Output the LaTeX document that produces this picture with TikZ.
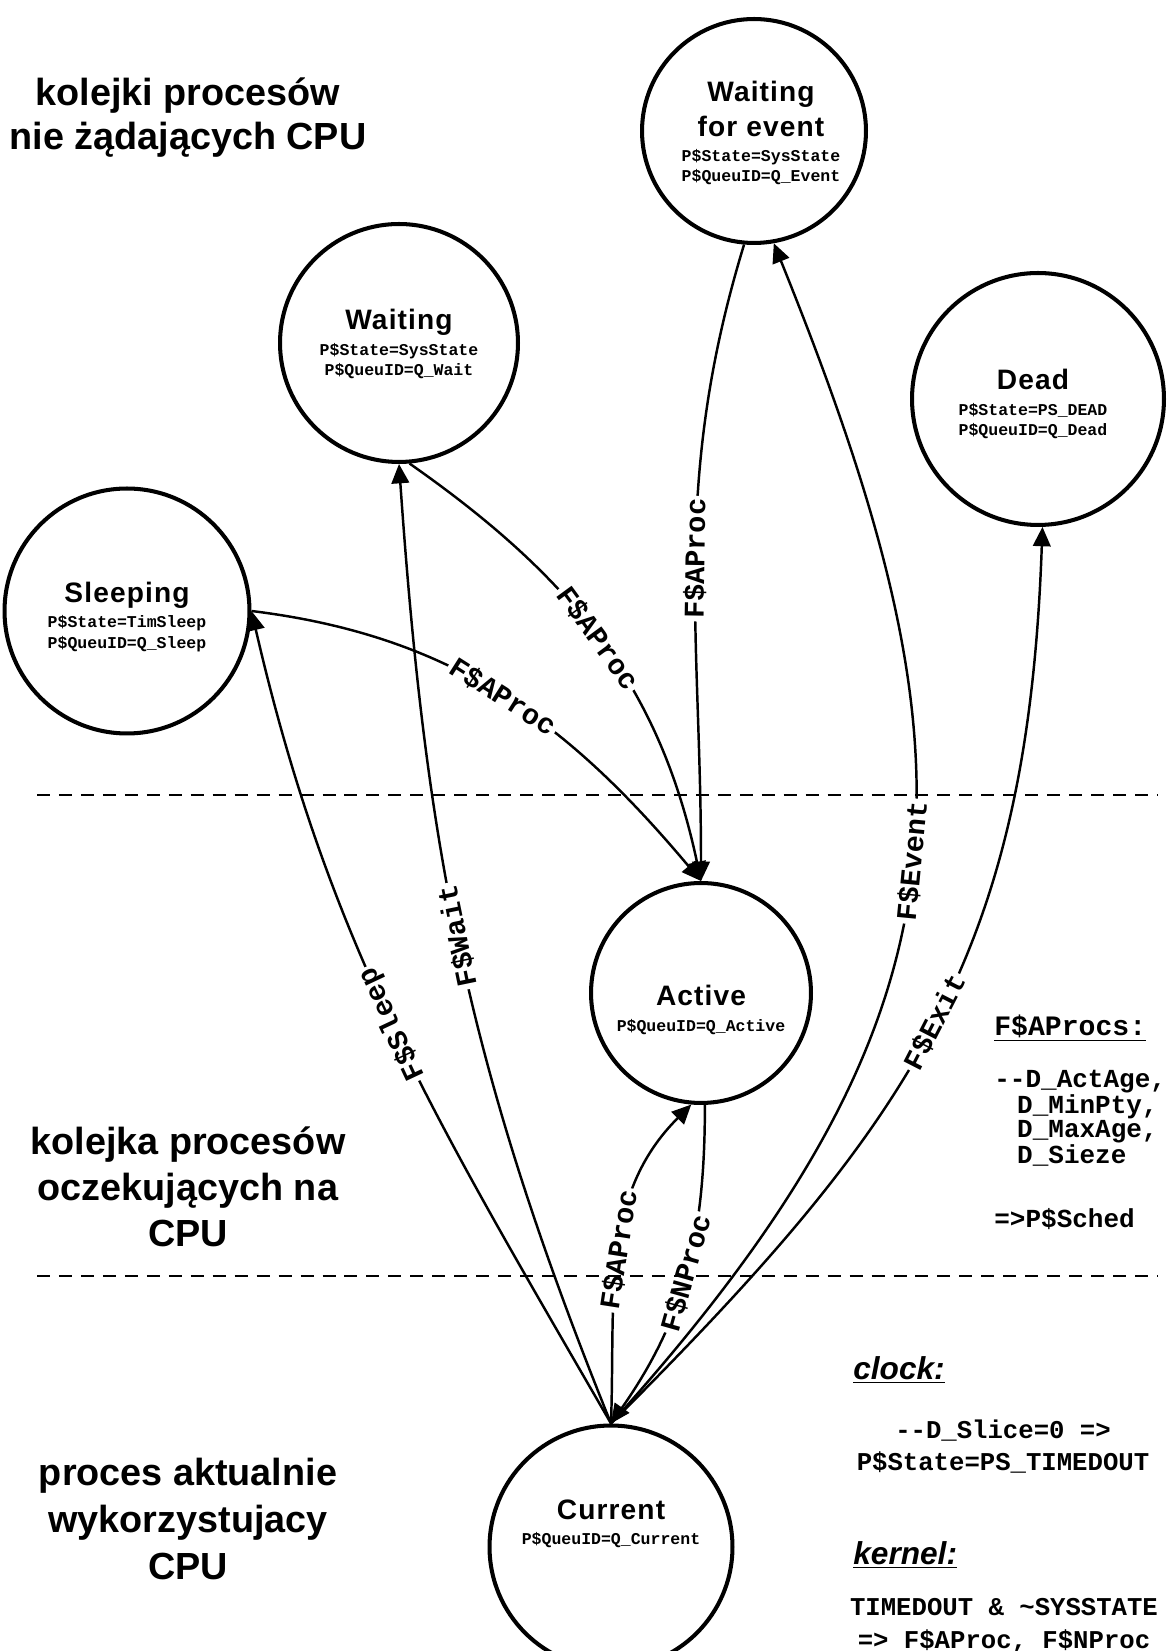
\documentclass[tikz,border=0pt]{standalone}
\usepackage{fontspec}
\setmainfont{Liberation Sans}
\setmonofont{Liberation Mono}
\usetikzlibrary{positioning,arrows.meta}

\newcommand{\stitle}{\fontsize{16}{18}\selectfont\rmfamily\bfseries\addfontfeature{LetterSpace=4}}
\newcommand{\scode}{\fontsize{9.4}{11.5}\selectfont\ttfamily\bfseries}
\newcommand{\elabel}{\fontsize{16.3}{19}\selectfont\ttfamily\bfseries}
\newcommand{\ncode}{\fontsize{14.6}{18}\selectfont\ttfamily\bfseries}
\newcommand{\nhead}{\fontsize{18}{21}\selectfont\bfseries\itshape}
\newcommand{\regionfont}{\fontsize{21.5}{25}\selectfont\bfseries}

\begin{document}
\begin{tikzpicture}[
    x=0.02cm, y=0.02cm,
    >={Triangle[length=11pt,width=10pt]},
    state/.style={circle, draw, line width=2.3pt, minimum size=#1, inner sep=0pt},
    state/.default=4.76cm,
    stext/.style={align=center, inner sep=0pt, font=\scode},
    trans/.style={->, line width=1.4pt},
    lbl/.style={sloped, allow upside down, fill=white, inner sep=1.5pt, font=\elabel},
    region/.style={align=center, font=\regionfont},
    note/.style={inner sep=0pt, font=\ncode},
    divider/.style={dash pattern=on 7.4pt off 5.1pt, line width=0.85pt},
  ]
  \useasboundingbox (0,0) rectangle (1170,1651);

  % ============================================================
  % Process states
  % ============================================================
  \node[state=4.48cm] (wfe) at (754, 1520) {};
  \node[stext] (wfetxt) at (761, 1518)
    {{\stitle Waiting}\\[4.2pt]{\stitle for event}\\[2.8pt]P\$State=SysState\\P\$QueuID=Q\_Event};

  \node[state] (wait) at (399, 1308) {};
  \node[stext] (waittxt) at (399, 1307)
    {{\stitle Waiting}\\[2.8pt]P\$State=SysState\\P\$QueuID=Q\_Wait};

  \node[state=5.04cm] (dead) at (1038, 1252) {};
  \node[stext] (deadtxt) at (1033, 1247)
    {{\stitle Dead}\\[2.8pt]P\$State=PS\_DEAD\\P\$QueuID=Q\_Dead};

  \node[state=4.9cm] (sleep) at (127, 1040) {};
  \node[stext] (sleeptxt) at (127, 1034)
    {{\stitle Sleeping}\\[2.8pt]P\$State=TimSleep\\P\$QueuID=Q\_Sleep};

  \node[state=4.4cm] (active) at (701, 658) {};
  \node[stext] (activetxt) at (701, 641)
    {{\stitle Active}\\[2.8pt]P\$QueuID=Q\_Active};

  \node[state=4.86cm] (current) at (611, 104) {};
  \node[stext] (currenttxt) at (611, 127)
    {{\stitle Current}\\[2.8pt]P\$QueuID=Q\_Current};

  % ============================================================
  % Transitions
  % ============================================================
  \draw[trans] (current.north) to[out=120, in=-77] node[lbl, pos=0.51] {F\$Sleep} (sleep.east);
  \draw[trans] (current.north) to[out=112, in=-86] node[lbl, pos=0.52] {F\$Wait} (wait.south);
  \draw[trans] (wait.-85) to[out=-35, in=102] node[lbl, pos=0.49] {F\$AProc} (active.north);
  \draw[trans] (sleep.east) to[out=-7, in=130] node[lbl] {F\$AProc} (active.north);
  \draw[trans, <-] (active.north) to[out=90, in=-107] node[lbl] {F\$AProc} (wfe.-95);
  \draw[trans] (current.north) to[out=48, in=-68, looseness=1.2] node[lbl, pos=0.51] {F\$Event} (wfe.-80);
  \draw[trans] (current.north) to[out=45, in=-92, looseness=1.1] node[lbl] {F\$Exit} (dead.-88);
  \draw[trans] (current.north) to[out=88, in=-135] node[lbl] {F\$AProc} (active.-95);
  \draw[trans, <-] (current.north) to[out=55, in=-90] node[lbl] {F\$NProc} (active.-88);

  % ============================================================
  % Queue regions
  % ============================================================
  \draw[divider] (37, 856) -- (1158, 856);
  \draw[divider] (37, 375) -- (1158, 375);

  \node[region] (idleq) at (188, 1533) {kolejki procesów\\nie żądających CPU};
  \node[region, font=\fontsize{21.5}{26}\selectfont\bfseries] (readyq) at (188, 464)
    {kolejka procesów\\oczekujących na\\CPU};
  \node[region, font=\fontsize{21.5}{27}\selectfont\bfseries] (runq) at (188, 132)
    {proces aktualnie\\wykorzystujacy\\CPU};

  % ============================================================
  % Notes
  % ============================================================
  \node[note, font=\fontsize{16}{18}\selectfont\ttfamily\bfseries, anchor=base west] (procshead) at (994, 615)
    {\underline{F\$AProcs:}};
  \node[note, font=\fontsize{14.8}{13.3}\selectfont\ttfamily\bfseries, align=left, anchor=north west] (procslist) at (994, 581)
    {--D\_ActAge,\\\hspace*{13pt}D\_MinPty,\\\hspace*{13pt}D\_MaxAge,\\\hspace*{13pt}D\_Sieze\\[23.3pt]=>P\$Sched};

  \node[note, font=\nhead, anchor=base west] (clockhead) at (853, 271) {\underline{clock:}};
  \node[note, align=center, anchor=north] (clocktxt) at (1003, 231)
    {--D\_Slice=0 =>\\P\$State=PS\_TIMEDOUT};

  \node[note, font=\nhead, anchor=base west] (kernelhead) at (853, 86) {\underline{kernel:}};
  \node[note, align=center, anchor=north, font=\fontsize{14.6}{18.5}\selectfont\ttfamily\bfseries] (kerneltxt) at (1004, 53)
    {TIMEDOUT \& \textasciitilde SYSSTATE\\=> F\$AProc, F\$NProc};
\end{tikzpicture}
\end{document}
